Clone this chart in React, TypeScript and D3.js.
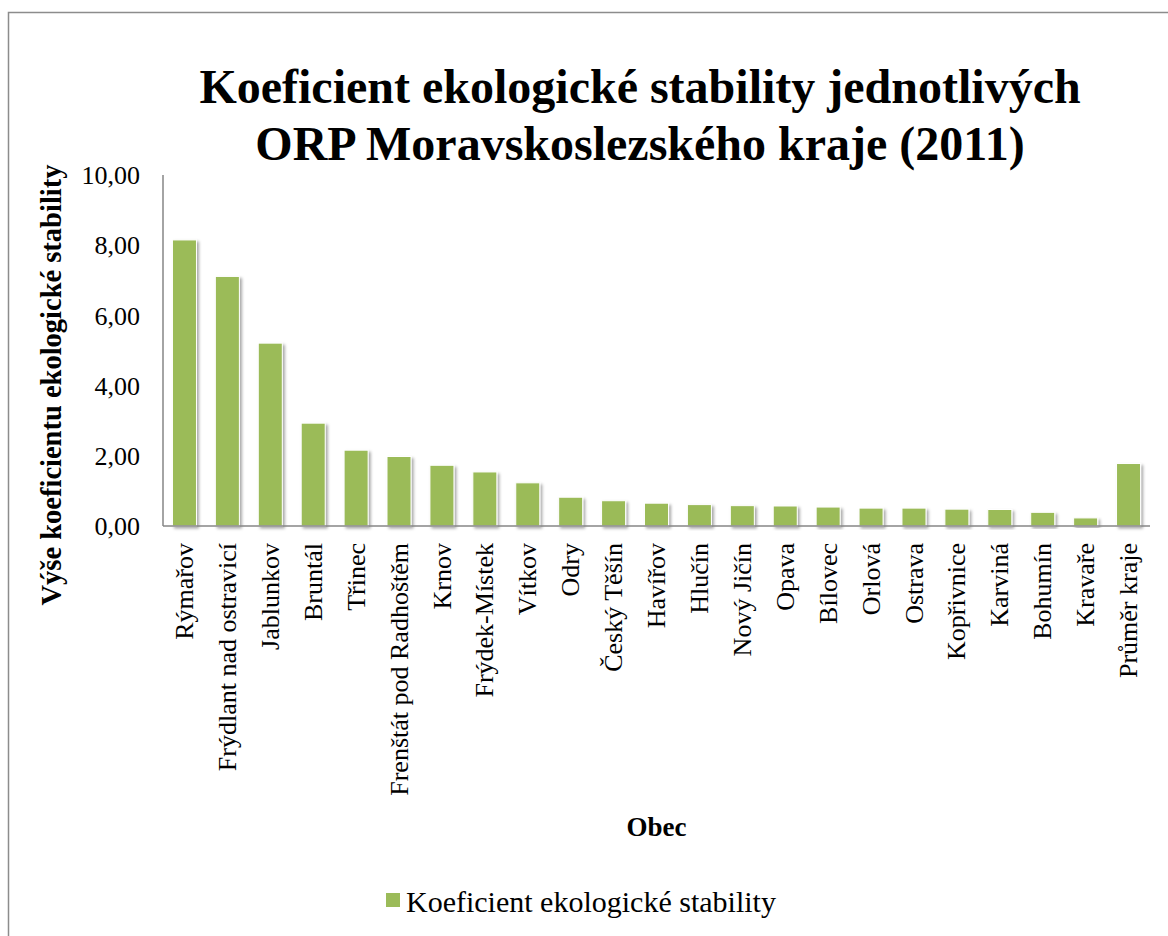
import React, { useEffect, useRef } from 'react';
import * as d3 from 'd3';

const categories = [
  'Rýmařov', 'Frýdlant nad ostravicí', 'Jablunkov', 'Bruntál', 'Třinec',
  'Frenštát pod Radhoštěm', 'Krnov', 'Frýdek-Místek', 'Vítkov', 'Odry',
  'Český Těšín', 'Havířov', 'Hlučín', 'Nový Jičín', 'Opava', 'Bílovec',
  'Orlová', 'Ostrava', 'Kopřivnice', 'Karviná', 'Bohumín', 'Kravaře',
  'Průměr kraje',
];
const values = [
  8.15, 7.11, 5.21, 2.93, 2.16, 1.98, 1.73, 1.54, 1.23, 0.82, 0.72, 0.65,
  0.61, 0.58, 0.57, 0.54, 0.51, 0.51, 0.48, 0.47, 0.39, 0.23, 1.78,
];
const yTicks = [0, 2, 4, 6, 8, 10];
const titleLines = [
  'Koeficient ekologické stability jednotlivých',
  'ORP Moravskoslezského kraje (2011)',
];
const seriesName = 'Koeficient ekologické stability';

const W = 1168;
const H = 936;
const FONT = '"Liberation Serif", "Times New Roman", serif';

const App = () => {
  const svgRef = useRef<SVGSVGElement>(null);

  useEffect(() => {
    const svg = d3.select(svgRef.current);
    svg.selectAll('*').remove();

    const plot = { left: 163, right: 1150, top: 175, bottom: 526 };

    const x = d3.scaleBand()
      .domain(categories)
      .range([plot.left, plot.right])
      .paddingInner(0.44)
      .paddingOuter(0.22);
    const y = d3.scaleLinear().domain([0, 10]).range([plot.bottom, plot.top]);

    const defs = svg.append('defs');
    const f = defs.append('filter').attr('id', 'shadow')
      .attr('x', '-30%').attr('y', '-10%').attr('width', '160%').attr('height', '130%');
    f.append('feDropShadow')
      .attr('dx', 2).attr('dy', 2).attr('stdDeviation', 1.6)
      .attr('flood-color', '#000').attr('flood-opacity', 0.35);

    // chart border (right/bottom edges fall outside the picture)
    svg.append('rect')
      .attr('x', 8.5).attr('y', 12.5)
      .attr('width', W + 20).attr('height', H + 20)
      .attr('fill', 'white')
      .attr('stroke', '#8c8c8c')
      .attr('stroke-width', 1.5);

    // title
    svg.append('text')
      .attr('x', 640).attr('y', 103)
      .attr('text-anchor', 'middle')
      .style('font-family', FONT)
      .style('font-weight', 'bold')
      .style('font-size', '48px')
      .selectAll('tspan')
      .data(titleLines)
      .enter()
      .append('tspan')
      .attr('x', 640)
      .attr('dy', (d, i) => (i === 0 ? 0 : 57))
      .text(d => d);

    // bars
    svg.append('g')
      .selectAll('rect')
      .data(values)
      .enter()
      .append('rect')
      .attr('x', (d, i) => x(categories[i]) as number)
      .attr('y', d => y(d))
      .attr('width', x.bandwidth())
      .attr('height', d => plot.bottom - y(d))
      .attr('fill', '#9bbb59')
      .attr('stroke', '#ffffff')
      .attr('stroke-width', 1)
      .attr('filter', 'url(#shadow)');

    // axes lines
    svg.append('line')
      .attr('x1', plot.left).attr('x2', plot.left)
      .attr('y1', plot.top).attr('y2', plot.bottom)
      .attr('stroke', '#868686').attr('stroke-width', 1.5);
    svg.append('line')
      .attr('x1', plot.left).attr('x2', plot.right)
      .attr('y1', plot.bottom).attr('y2', plot.bottom)
      .attr('stroke', '#868686').attr('stroke-width', 1.5);

    // y tick labels
    const fmt = (v: number) => v.toFixed(2).replace('.', ',');
    svg.append('g')
      .selectAll('text')
      .data(yTicks)
      .enter()
      .append('text')
      .attr('x', 140)
      .attr('y', d => y(d))
      .attr('dy', '0.35em')
      .attr('text-anchor', 'end')
      .style('font-family', FONT)
      .style('font-size', '26px')
      .text(d => fmt(d));

    // x labels, rotated
    svg.append('g')
      .selectAll('text')
      .data(categories)
      .enter()
      .append('text')
      .attr('transform', d => `translate(${(x(d) as number) + x.bandwidth() / 2},543) rotate(-90)`)
      .attr('text-anchor', 'end')
      .attr('dy', '0.33em')
      .style('font-family', FONT)
      .style('font-size', '26px')
      .text(d => d);

    // axis titles
    svg.append('text')
      .attr('transform', `translate(61,385) rotate(-90)`)
      .attr('text-anchor', 'middle')
      .style('font-family', FONT)
      .style('font-weight', 'bold')
      .style('font-size', '28.5px')
      .text('Výše koeficientu ekologické stability');

    svg.append('text')
      .attr('x', (plot.left + plot.right) / 2)
      .attr('y', 836)
      .attr('text-anchor', 'middle')
      .style('font-family', FONT)
      .style('font-weight', 'bold')
      .style('font-size', '27px')
      .text('Obec');

    // legend
    const lg = svg.append('g');
    lg.append('rect')
      .attr('x', 386).attr('y', 893)
      .attr('width', 14).attr('height', 14)
      .attr('fill', '#9bbb59');
    lg.append('text')
      .attr('x', 406).attr('y', 912)
      .style('font-family', FONT)
      .style('font-size', '30px')
      .text(seriesName);

    return () => {
      svg.selectAll('*').remove();
    };
  }, []);

  return (
    <div style={{ position: 'absolute', left: 0, top: 0 }}>
      <svg ref={svgRef} width={W} height={H} style={{ display: 'block' }}></svg>
    </div>
  );
};

export default App;
